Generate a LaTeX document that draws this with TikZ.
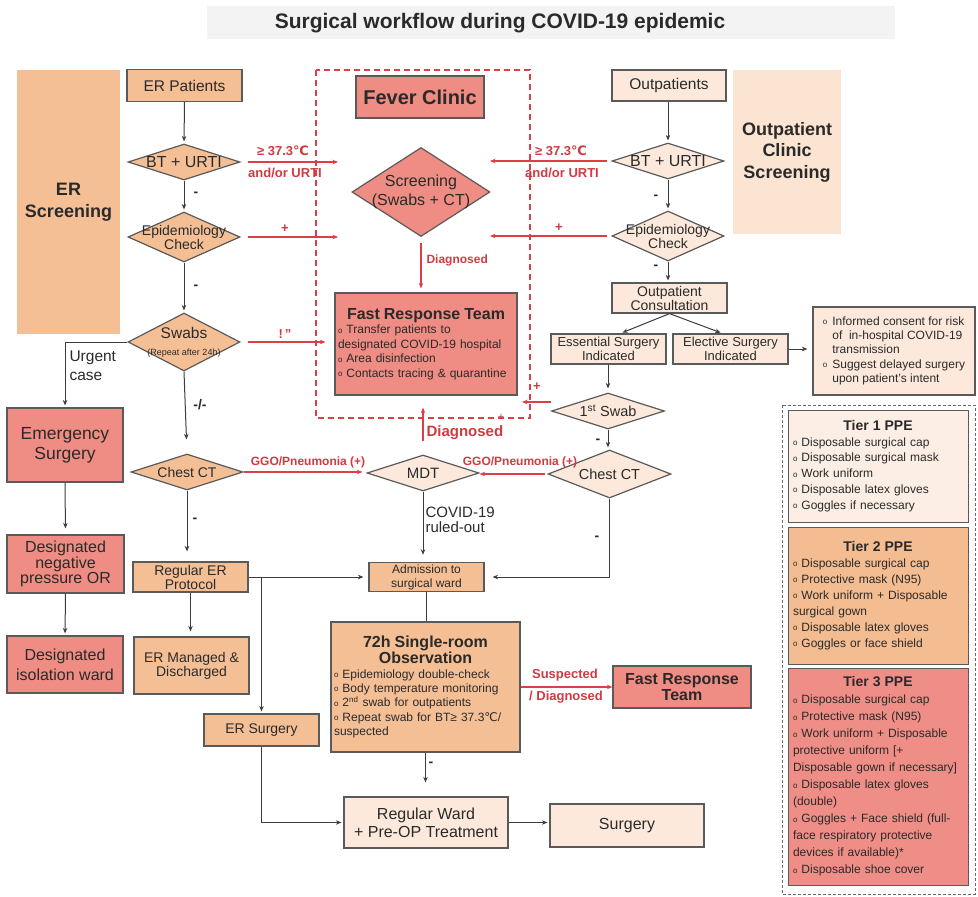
\documentclass[tikz,border=0pt]{standalone}
\usepackage{fontspec}
\setmainfont{Liberation Sans}
\newfontfamily\symf{DejaVu Sans}
\usepackage{xcolor}
\usepackage{tikz}
\usetikzlibrary{shapes.geometric,arrows.meta}

\definecolor{erorange}{HTML}{F5BF95}
\definecolor{salmon}{HTML}{EF8C83}
\definecolor{beige}{HTML}{FCE9DB}
\definecolor{opbg}{HTML}{FBE4D2}
\definecolor{redline}{HTML}{DD3F46}
\definecolor{redtext}{HTML}{D23A42}
\definecolor{boxgray}{HTML}{5A5A5A}
\definecolor{linegray}{HTML}{3C3C3C}
\definecolor{textdark}{HTML}{2A2A2A}
\definecolor{titlebg}{HTML}{F3F3F3}
\definecolor{tierone}{HTML}{FCEEE5}
\definecolor{tiertwo}{HTML}{F4BC91}
\definecolor{tierthree}{HTML}{EF8E87}
\definecolor{ppegray}{HTML}{6A6A6A}

\newcommand\fsz[2]{\fontsize{#1pt}{#2pt}\selectfont}
\newcommand\degc{{\symf ℃}}
\newcommand\bul{\raisebox{.1ex}{\fsz{8}{8}o}}
\newcommand\itm{\bul\ }

\begin{document}
\begin{tikzpicture}[x=1pt,y=-1pt,
  box/.style={draw=boxgray,line width=1.2pt,inner sep=2pt,align=center,text=textdark},
  dia/.style={diamond,draw=boxgray,line width=1.2pt,inner sep=0pt},
  dtext/.style={align=center,text=textdark,inner sep=0pt},
  flow/.style={draw=linegray,line width=1pt,shorten >=2pt,-{Stealth[length=5.5pt,width=4.5pt]}},
  redflow/.style={draw=redline,line width=1.3pt,-{Stealth[length=5.5pt,width=4.5pt]}},
  redlab/.style={text=redtext,font=\bfseries\fsz{13}{16},align=center},
  sign/.style={text=textdark,font=\bfseries\fsz{14}{14}},
  ppe/.style={draw=boxgray,line width=1pt,text width=170pt,align=left,text=textdark,minimum width=180pt}
]
\useasboundingbox (0,0) rectangle (978,897);
\fill[titlebg] (207,6) rectangle (895,39);
\node[font=\bfseries\fsz{21}{24},text=textdark] (title) at (500,23) {Surgical workflow during COVID-19 epidemic};

\node[fill=erorange,minimum width=103pt,minimum height=264pt,align=center,text=textdark,font=\bfseries\fsz{18}{22}] (erscr) at (68.5,202) {ER\\Screening};
\node[fill=opbg,minimum width=108pt,minimum height=164pt,align=center,text=textdark,font=\bfseries\fsz{18}{21.5}] (opscr) at (787,152) {Outpatient\\Clinic\\Screening};
\draw[redline,line width=1.3pt,dash pattern=on 6pt off 4pt] (316,70) rectangle (530,418);
\draw[ppegray,line width=1pt,dash pattern=on 3pt off 2pt] (782,405) rectangle (975,894);

\node[box,fill=erorange,minimum width=115pt,minimum height=32pt,font=\fsz{15.5}{18}] (erpat) at (184.5,85.5) {ER Patients};
\node[dia,fill=erorange,minimum width=112pt,minimum height=36pt,label={[dtext,font=\fsz{16}{18}]center:BT + URTI}] (bter) at (184,162) {};
\node[dia,fill=erorange,minimum width=112pt,minimum height=50pt,label={[dtext,font=\fsz{14}{14}]center:Epidemiology\\Check}] (eper) at (184,237) {};
\node[dia,fill=erorange,minimum width=112pt,minimum height=58pt,label={[dtext,font=\fsz{15.5}{17}]center:Swabs\\{\fsz{9}{9}(Repeat after 24h)}}] (swer) at (184,342) {};
\node[dia,fill=erorange,minimum width=112pt,minimum height=36pt,label={[dtext,font=\fsz{14}{14}]center:Chest CT}] (cter) at (187,472) {};
\node[box,fill=salmon,minimum width=116pt,minimum height=74pt,font=\fsz{17.5}{20}] (emerg) at (65,445) {Emergency\\Surgery};
\node[box,fill=salmon,minimum width=117pt,minimum height=58pt,font=\fsz{16}{14.5}] (negor) at (65.5,564) {Designated\\negative\\pressure OR};
\node[box,fill=salmon,minimum width=116pt,minimum height=57pt,font=\fsz{16}{20}] (isol) at (65,664.5) {Designated\\isolation ward};
\node[box,fill=erorange,minimum width=115pt,minimum height=30pt,font=\fsz{14}{14}] (regprot) at (190.5,577) {Regular ER\\Protocol};
\node[box,fill=erorange,minimum width=115pt,minimum height=57pt,font=\fsz{14}{14}] (ermgd) at (191.5,665.5) {ER Managed \&\\Discharged};
\node[box,fill=erorange,minimum width=115pt,minimum height=32pt,font=\fsz{14}{16}] (ersurg) at (261.5,730) {ER Surgery};

\node[box,fill=salmon,minimum width=128pt,minimum height=42pt,font=\bfseries\fsz{20}{22}] (fever) at (420,97) {Fever Clinic};
\node[dia,fill=salmon,minimum width=138pt,minimum height=89pt,label={[dtext,font=\fsz{16}{19}]center:Screening\\(Swabs + CT)}] (scr) at (421,192) {};
\node[box,fill=salmon,minimum width=182pt,minimum height=102pt,text width=176pt,align=left,font=\fsz{12}{14.5}] (frt) at (426,344) {\makebox[176pt]{\bfseries\fsz{16}{17}Fast Response Team}\\\itm Transfer patients to\\designated COVID-19 hospital\\\itm Area disinfection\\\itm Contacts tracing \& quarantine};
\node[dia,fill=beige,minimum width=112pt,minimum height=36pt,label={[dtext,font=\fsz{15}{17}]center:MDT}] (mdt) at (423,473) {};
\node[box,fill=erorange,minimum width=115pt,minimum height=29pt,font=\fsz{12}{14}] (adm) at (426.5,577) {Admission to\\surgical ward};
\node[box,fill=erorange,minimum width=189pt,minimum height=130pt,text width=183pt,align=left,font=\fsz{12}{14.3}] (obs) at (425.5,687) {\makebox[183pt]{\bfseries\fsz{16}{14}72h Single-room}\\\makebox[183pt]{\bfseries\fsz{16}{14}Observation}\\\itm Epidemiology double-check\\\itm Body temperature monitoring\\\itm 2\textsuperscript{nd} swab for outpatients\\\itm Repeat swab for BT≥ 37.3\degc/\\suspected};
\node[box,fill=salmon,minimum width=138pt,minimum height=42pt,font=\bfseries\fsz{16}{14}] (frtb) at (682,687) {Fast Response\\Team};
\node[box,fill=beige,minimum width=164pt,minimum height=51pt,font=\fsz{16}{18}] (ward) at (426,822.5) {Regular Ward\\+ Pre-OP Treatment};
\node[box,fill=beige,minimum width=154pt,minimum height=43pt,font=\fsz{16}{18}] (surg) at (627,825.5) {Surgery};

\node[box,fill=beige,minimum width=114pt,minimum height=31pt,font=\fsz{15.5}{18}] (outpat) at (669,85.5) {Outpatients};
\node[dia,fill=beige,minimum width=112pt,minimum height=36pt,label={[dtext,font=\fsz{16}{18}]center:BT + URTI}] (btop) at (668,161) {};
\node[dia,fill=beige,minimum width=112pt,minimum height=50pt,label={[dtext,font=\fsz{14}{14}]center:Epidemiology\\Check}] (epop) at (668,236) {};
\node[box,fill=beige,minimum width=115pt,minimum height=30pt,font=\fsz{14}{14}] (cons) at (669.5,298) {Outpatient\\Consultation};
\node[box,fill=beige,minimum width=115pt,minimum height=30pt,font=\fsz{13}{13.5}] (ess) at (608.5,349) {Essential Surgery\\Indicated};
\node[box,fill=beige,minimum width=115pt,minimum height=30pt,font=\fsz{13}{13.5}] (elec) at (730.5,349) {Elective Surgery\\Indicated};
\node[box,fill=beige,minimum width=162pt,minimum height=88pt,align=left,font=\fsz{12}{14.3}] (info) at (894,351) {\begin{tabular}{@{}l@{\hspace{5pt}}l@{}}\bul & Informed consent for risk\\ & of\ \ in-hospital COVID-19\\ & transmission\\ \bul & Suggest delayed surgery\\ & upon patient's intent\end{tabular}};
\node[dia,fill=beige,minimum width=113pt,minimum height=36pt,label={[dtext,font=\fsz{14.5}{17}]center:1\textsuperscript{st} Swab}] (swab1) at (608,411) {};
\node[dia,fill=beige,minimum width=123pt,minimum height=48pt,label={[dtext,font=\fsz{14.5}{16}]center:Chest CT}] (ctop) at (609.5,474) {};

\node[ppe,fill=tierone,minimum height=112pt,font=\fsz{12}{15.7}] (tier1) at (878,466) {\makebox[170pt]{\bfseries\fsz{14}{16}Tier 1 PPE}\\\itm Disposable surgical cap\\\itm Disposable surgical mask\\\itm Work uniform\\\itm Disposable latex gloves\\\itm Goggles if necessary};
\node[ppe,fill=tiertwo,minimum height=137pt,font=\fsz{12}{16}] (tier2) at (878,595.5) {\makebox[170pt]{\bfseries\fsz{14}{16}Tier 2 PPE}\\\itm Disposable surgical cap\\\itm Protective mask (N95)\\\itm Work uniform + Disposable\\surgical gown\\\itm Disposable latex gloves\\\itm Goggles or face shield};
\node[ppe,fill=tierthree,minimum height=217pt,font=\fsz{12}{17}] (tier3) at (878,776.5) {\makebox[170pt]{\bfseries\fsz{14}{16}Tier 3 PPE}\\\itm Disposable surgical cap\\\itm Protective mask (N95)\\\itm Work uniform + Disposable\\protective uniform [+\\Disposable gown if necessary]\\\itm Disposable latex gloves\\(double)\\\itm Goggles + Face shield (full-\\face respiratory protective\\devices if available)*\\\itm Disposable shoe cover};

\coordinate (fer1) at (338,162);
\coordinate (fer2) at (338,237);
\coordinate (fop1) at (490,161);
\coordinate (fop2) at (490,236);
\coordinate (fsw) at (522,402);

\draw[flow] (erpat.south) -- (bter.north);
\draw[flow] (bter.south) -- (eper.north);
\draw[flow] (eper.south) -- (swer.north);
\draw[flow,shorten >=14pt] (swer.south) -- (cter.north);
\draw[flow] (swer.west) -| (emerg.north);
\draw[flow,shorten >=6pt] (emerg.south) -- (negor.north);
\draw[flow] (negor.south) -- (isol.north);
\draw[flow,shorten >=10pt] (cter.south) -- (cter.south |- regprot.north);
\draw[flow,shorten >=5pt] (regprot.south) -- (regprot.south |- ermgd.north);
\draw[flow,shorten >=5pt] (regprot.east) -- (adm.west);
\draw[flow] (regprot.east -| ersurg.north) -- (ersurg.north);
\draw[flow] (ersurg.south) |- (ward.west);
\draw[flow,shorten >=7pt] (mdt.south) -- (mdt.south |- adm.north);
\draw[flow,shorten >=8pt] (ctop.south) |- (adm.east);
\draw[linegray,line width=1pt] (adm.south) -- (adm.south |- obs.north);
\draw[flow,shorten >=14pt] (obs.south) -- (obs.south |- ward.north);
\draw[flow] (ward.east) -- (ward.east -| surg.west);
\draw[flow] (btop.north |- outpat.south) -- (btop.north);
\draw[flow] (btop.south) -- (epop.north);
\draw[flow] (epop.south) -- (epop.south |- cons.north);
\draw[flow] (cons.south) -- ([xshift=12pt]ess.north);
\draw[flow] (cons.south) -- ([xshift=-8pt]elec.north);
\draw[flow,shorten >=5pt] (elec.east) -- (elec.east -| info.west);
\draw[flow,shorten >=4pt] (ess.south -| swab1.north) -- (swab1.north);
\draw[flow] (swab1.south) -- (swab1.south |- ctop.north);

\draw[redflow,shorten <=7pt] (bter.east) -- (fer1);
\draw[redflow,shorten <=7pt] (eper.east) -- (fer2);
\draw[redflow,shorten <=7pt,shorten >=9pt] (swer.east) -- (swer.east -| frt.west);
\draw[redflow,shorten <=4pt] (btop.west) -- (fop1);
\draw[redflow,shorten <=4pt] (epop.west) -- (fop2);
\draw[redflow,shorten <=6pt,shorten >=4pt] (scr.south) -- (scr.south |- frt.north);
\draw[redflow,shorten <=13pt,shorten >=12pt] (mdt.north) -- (mdt.north |- frt.south);
\draw[redflow] ([yshift=9pt]swab1.west) -- (fsw);
\draw[redflow,shorten >=4pt] (cter.east) -- (cter.east -| mdt.west);
\draw[redflow,shorten <=2pt] (ctop.west) -- (ctop.west -| mdt.east);
\draw[redflow] (obs.east) -- (frtb.west);

\node[redlab] (l1a) at (283,151) {≥ 37.3\degc};
\node[redlab] (l1b) at (285,173) {and/or URTI};
\node[redlab] (l2) at (285,229) {+};
\node[redlab] (l3) at (285,334) {!\,''};
\node[redlab] (r1a) at (561,151) {≥ 37.3\degc};
\node[redlab] (r1b) at (562,173) {and/or URTI};
\node[redlab] (r2) at (559,228) {+};
\node[redlab] (r3) at (537,387) {+};
\node[redlab,font=\bfseries\fsz{12}{14}] (g1) at (308,462) {GGO/Pneumonia (+)};
\node[redlab,font=\bfseries\fsz{12}{14}] (g2) at (520,462) {GGO/Pneumonia (+)};
\node[redlab] (s1) at (565,675) {Suspected};
\node[redlab] (s2) at (566,697) {/ Diagnosed};
\node[redlab,font=\bfseries\fsz{12}{14},anchor=west] (dgup) at (423,260) {Diagnosed};
\node[redlab,font=\bfseries\fsz{15}{17},anchor=west] (dglow) at (423,433) {Diagnosed};
\node[text=redtext,font=\fsz{11}{11},inner sep=0pt] (dgplus) at (501,417) {+};

\node[sign] (d1) at (196,194) {-};
\node[sign] (d2) at (196,287) {-};
\node[sign] (d3) at (200,405) {-/-};
\node[sign] (d4) at (195,520) {-};
\node[sign] (d5) at (656,197) {-};
\node[sign] (d6) at (656,267) {-};
\node[sign] (d7) at (598,441) {-};
\node[sign] (d8) at (597,538) {-};
\node[sign] (d9) at (431,764) {-};
\node[anchor=west,align=left,text=textdark,font=\fsz{15.5}{19}] (urg) at (66,366) {Urgent\\case};
\node[anchor=west,align=left,text=textdark,font=\fsz{15}{14.5}] (ruled) at (422,520) {COVID-19\\ruled-out};
\end{tikzpicture}
\end{document}
